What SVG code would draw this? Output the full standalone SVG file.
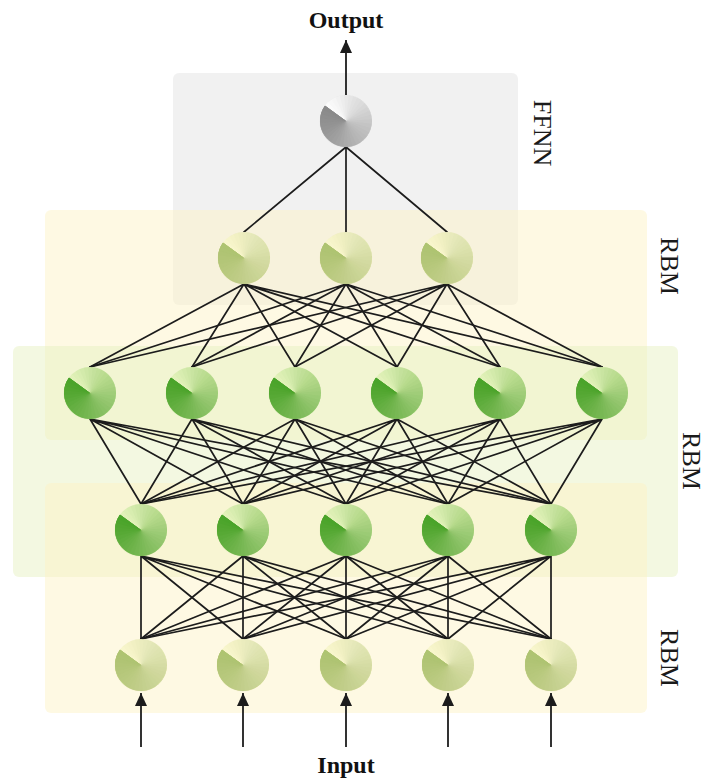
<svg xmlns="http://www.w3.org/2000/svg" xmlns:xlink="http://www.w3.org/1999/xlink" width="708" height="780" viewBox="0 0 708 780">
  <style>
    .panel { stroke: none; }
    .ffnn { fill: #e6e6e6; fill-opacity: 0.55; }
    .rbm-y { fill: #fcf2c4; fill-opacity: 0.48; }
    .rbm-g { fill: #e4f0bc; fill-opacity: 0.45; }
    .wire { fill: none; stroke: #1c1c1c; stroke-width: 1.7; stroke-linecap: round; }
    .arrow { fill: none; stroke: #1c1c1c; stroke-width: 1.8; marker-end: url(#head); }
    .io { font-family: "Liberation Serif", "Times New Roman", serif; font-weight: bold; font-size: 24px; fill: #111; text-anchor: middle; }
    .side { font-family: "Liberation Serif", "Times New Roman", serif; font-size: 26px; fill: #1a1a1a; text-anchor: middle; }
  </style>
  <defs>
    <marker id="head" markerUnits="userSpaceOnUse" markerWidth="14" markerHeight="12" refX="13" refY="6" orient="auto">
      <path d="M0 0L13 6L0 12Z" fill="#1c1c1c"/>
    </marker>
    <!-- conical shading: stacked wedges that all end at the upper-left seam,
         so darkness builds up clockwise from the seam -->
    <g id="shade">
      <path fill-opacity="0.0286" d="M0 0L-18.1 -18.7A26 26 0 1 1 -21 -15.3Z"/>
      <path fill-opacity="0.0294" d="M0 0L-14.5 -21.6A26 26 0 1 1 -21 -15.3Z"/>
      <path fill-opacity="0.0303" d="M0 0L-10.6 -23.8A26 26 0 1 1 -21 -15.3Z"/>
      <path fill-opacity="0.0313" d="M0 0L-6.3 -25.2A26 26 0 1 1 -21 -15.3Z"/>
      <path fill-opacity="0.0323" d="M0 0L-1.8 -25.9A26 26 0 1 1 -21 -15.3Z"/>
      <path fill-opacity="0.0333" d="M0 0L2.7 -25.9A26 26 0 1 1 -21 -15.3Z"/>
      <path fill-opacity="0.0345" d="M0 0L7.2 -25A26 26 0 1 1 -21 -15.3Z"/>
      <path fill-opacity="0.0357" d="M0 0L11.4 -23.4A26 26 0 1 1 -21 -15.3Z"/>
      <path fill-opacity="0.0370" d="M0 0L15.3 -21A26 26 0 1 1 -21 -15.3Z"/>
      <path fill-opacity="0.0385" d="M0 0L18.7 -18.1A26 26 0 1 1 -21 -15.3Z"/>
      <path fill-opacity="0.0400" d="M0 0L21.6 -14.5A26 26 0 1 1 -21 -15.3Z"/>
      <path fill-opacity="0.0417" d="M0 0L23.8 -10.6A26 26 0 1 1 -21 -15.3Z"/>
      <path fill-opacity="0.0435" d="M0 0L25.2 -6.3A26 26 0 1 1 -21 -15.3Z"/>
      <path fill-opacity="0.0455" d="M0 0L25.9 -1.8A26 26 0 1 1 -21 -15.3Z"/>
      <path fill-opacity="0.0476" d="M0 0L25.9 2.7A26 26 0 1 1 -21 -15.3Z"/>
      <path fill-opacity="0.0500" d="M0 0L25 7.2A26 26 0 1 1 -21 -15.3Z"/>
      <path fill-opacity="0.0526" d="M0 0L23.4 11.4A26 26 0 1 1 -21 -15.3Z"/>
      <path fill-opacity="0.0556" d="M0 0L21 15.3A26 26 0 1 1 -21 -15.3Z"/>
      <path fill-opacity="0.0588" d="M0 0L18.1 18.7A26 26 0 0 1 -21 -15.3Z"/>
      <path fill-opacity="0.0625" d="M0 0L14.5 21.6A26 26 0 0 1 -21 -15.3Z"/>
      <path fill-opacity="0.0667" d="M0 0L10.6 23.8A26 26 0 0 1 -21 -15.3Z"/>
      <path fill-opacity="0.0714" d="M0 0L6.3 25.2A26 26 0 0 1 -21 -15.3Z"/>
      <path fill-opacity="0.0769" d="M0 0L1.8 25.9A26 26 0 0 1 -21 -15.3Z"/>
      <path fill-opacity="0.0833" d="M0 0L-2.7 25.9A26 26 0 0 1 -21 -15.3Z"/>
      <path fill-opacity="0.0909" d="M0 0L-7.2 25A26 26 0 0 1 -21 -15.3Z"/>
      <path fill-opacity="0.1000" d="M0 0L-11.4 23.4A26 26 0 0 1 -21 -15.3Z"/>
      <path fill-opacity="0.1111" d="M0 0L-15.3 21A26 26 0 0 1 -21 -15.3Z"/>
      <path fill-opacity="0.1250" d="M0 0L-18.7 18.1A26 26 0 0 1 -21 -15.3Z"/>
      <path fill-opacity="0.1429" d="M0 0L-21.6 14.5A26 26 0 0 1 -21 -15.3Z"/>
      <path fill-opacity="0.1667" d="M0 0L-23.8 10.6A26 26 0 0 1 -21 -15.3Z"/>
      <path fill-opacity="0.2000" d="M0 0L-25.2 6.3A26 26 0 0 1 -21 -15.3Z"/>
      <path fill-opacity="0.2500" d="M0 0L-25.9 1.8A26 26 0 0 1 -21 -15.3Z"/>
      <path fill-opacity="0.3333" d="M0 0L-25.9 -2.7A26 26 0 0 1 -21 -15.3Z"/>
      <path fill-opacity="0.5000" d="M0 0L-25 -7.2A26 26 0 0 1 -21 -15.3Z"/>
      <path fill-opacity="1" d="M0 0L-23.4 -11.4A26 26 0 0 1 -21 -15.3Z"/>
    </g>
    <g id="unit-gray">
      <circle r="26" fill="#fbfbfb"/>
      <use xlink:href="#shade" href="#shade" fill="#8a8a8a"/>
    </g>
    <g id="unit-yellow">
      <circle r="26" fill="#f8f6cc"/>
      <use xlink:href="#shade" href="#shade" fill="#aec471"/>
    </g>
    <g id="unit-green">
      <circle r="26" fill="#e2f1b9"/>
      <use xlink:href="#shade" href="#shade" fill="#4aa42a"/>
    </g>
  </defs>

  <rect width="708" height="780" fill="#ffffff"/>

  <!-- layer panels -->
  <g id="panels">
    <rect id="panel-ffnn" class="panel ffnn" x="173" y="73" width="345" height="232" rx="6"/>
    <rect id="panel-rbm-top" class="panel rbm-y" x="45" y="210" width="602" height="230" rx="6"/>
    <rect id="panel-rbm-mid" class="panel rbm-g" x="13" y="346" width="665" height="231" rx="6"/>
    <rect id="panel-rbm-bottom" class="panel rbm-y" x="45" y="483" width="602" height="230" rx="6"/>
  </g>

  <!-- weights between layers -->
  <g id="connectors">
    <path class="wire" d="M346 147L244 232M346 147L346 232M346 147L447 232"/>
    <path class="wire" d="M244 284L90 367M244 284L192 367M244 284L295 367M244 284L397 367M244 284L500 367M244 284L602 367"/>
    <path class="wire" d="M346 284L90 367M346 284L192 367M346 284L295 367M346 284L397 367M346 284L500 367M346 284L602 367"/>
    <path class="wire" d="M447 284L90 367M447 284L192 367M447 284L295 367M447 284L397 367M447 284L500 367M447 284L602 367"/>
    <path class="wire" d="M90 419L141 504M90 419L243 504M90 419L346 504M90 419L448 504M90 419L551 504"/>
    <path class="wire" d="M192 419L141 504M192 419L243 504M192 419L346 504M192 419L448 504M192 419L551 504"/>
    <path class="wire" d="M295 419L141 504M295 419L243 504M295 419L346 504M295 419L448 504M295 419L551 504"/>
    <path class="wire" d="M397 419L141 504M397 419L243 504M397 419L346 504M397 419L448 504M397 419L551 504"/>
    <path class="wire" d="M500 419L141 504M500 419L243 504M500 419L346 504M500 419L448 504M500 419L551 504"/>
    <path class="wire" d="M602 419L141 504M602 419L243 504M602 419L346 504M602 419L448 504M602 419L551 504"/>
    <path class="wire" d="M141 556L141 639M141 556L243 639M141 556L346 639M141 556L448 639M141 556L551 639"/>
    <path class="wire" d="M243 556L141 639M243 556L243 639M243 556L346 639M243 556L448 639M243 556L551 639"/>
    <path class="wire" d="M346 556L141 639M346 556L243 639M346 556L346 639M346 556L448 639M346 556L551 639"/>
    <path class="wire" d="M448 556L141 639M448 556L243 639M448 556L346 639M448 556L448 639M448 556L551 639"/>
    <path class="wire" d="M551 556L141 639M551 556L243 639M551 556L346 639M551 556L448 639M551 556L551 639"/>
    <line class="arrow" x1="346" y1="95" x2="346" y2="40"/>
    <line class="arrow" x1="141" y1="747" x2="141" y2="693"/>
    <line class="arrow" x1="243" y1="747" x2="243" y2="693"/>
    <line class="arrow" x1="346" y1="747" x2="346" y2="693"/>
    <line class="arrow" x1="448" y1="747" x2="448" y2="693"/>
    <line class="arrow" x1="551" y1="747" x2="551" y2="693"/>
  </g>

  <!-- output unit -->
  <g id="out"><use xlink:href="#unit-gray" href="#unit-gray" x="346" y="121"/></g>

  <!-- top hidden layer -->
  <g id="h3-1"><use xlink:href="#unit-yellow" href="#unit-yellow" x="244" y="258"/></g>
  <g id="h3-2"><use xlink:href="#unit-yellow" href="#unit-yellow" x="346" y="258"/></g>
  <g id="h3-3"><use xlink:href="#unit-yellow" href="#unit-yellow" x="447" y="258"/></g>

  <!-- wide hidden layer -->
  <g id="h2-1"><use xlink:href="#unit-green" href="#unit-green" x="90" y="393"/></g>
  <g id="h2-2"><use xlink:href="#unit-green" href="#unit-green" x="192" y="393"/></g>
  <g id="h2-3"><use xlink:href="#unit-green" href="#unit-green" x="295" y="393"/></g>
  <g id="h2-4"><use xlink:href="#unit-green" href="#unit-green" x="397" y="393"/></g>
  <g id="h2-5"><use xlink:href="#unit-green" href="#unit-green" x="500" y="393"/></g>
  <g id="h2-6"><use xlink:href="#unit-green" href="#unit-green" x="602" y="393"/></g>

  <!-- first hidden layer -->
  <g id="h1-1"><use xlink:href="#unit-green" href="#unit-green" x="141" y="530"/></g>
  <g id="h1-2"><use xlink:href="#unit-green" href="#unit-green" x="243" y="530"/></g>
  <g id="h1-3"><use xlink:href="#unit-green" href="#unit-green" x="346" y="530"/></g>
  <g id="h1-4"><use xlink:href="#unit-green" href="#unit-green" x="448" y="530"/></g>
  <g id="h1-5"><use xlink:href="#unit-green" href="#unit-green" x="551" y="530"/></g>

  <!-- visible layer -->
  <g id="v-1"><use xlink:href="#unit-yellow" href="#unit-yellow" x="141" y="665"/></g>
  <g id="v-2"><use xlink:href="#unit-yellow" href="#unit-yellow" x="243" y="665"/></g>
  <g id="v-3"><use xlink:href="#unit-yellow" href="#unit-yellow" x="346" y="665"/></g>
  <g id="v-4"><use xlink:href="#unit-yellow" href="#unit-yellow" x="448" y="665"/></g>
  <g id="v-5"><use xlink:href="#unit-yellow" href="#unit-yellow" x="551" y="665"/></g>

  <!-- labels -->
  <g id="labels">
    <text class="io" x="346" y="28">Output</text>
    <text class="io" x="346" y="773">Input</text>
    <text class="side" transform="translate(543 133) rotate(90)" y="8.6">FFNN</text>
    <text class="side" transform="translate(670 266) rotate(90)" y="8.6">RBM</text>
    <text class="side" transform="translate(692 461) rotate(90)" y="8.6">RBM</text>
    <text class="side" transform="translate(670 658) rotate(90)" y="8.6">RBM</text>
  </g>
</svg>
